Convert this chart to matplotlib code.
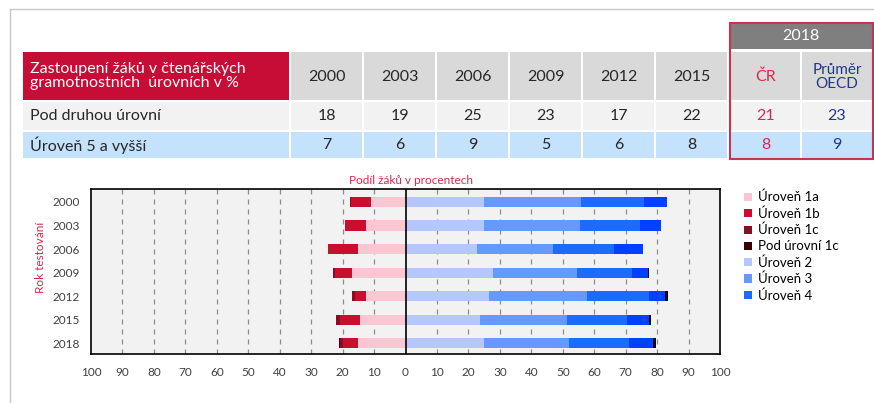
import matplotlib.pyplot as plt
import numpy as np
from matplotlib.patches import Rectangle

plt.rcParams['font.family'] = ['Lato', 'DejaVu Sans']

# table data
years = ['2000', '2003', '2006', '2009', '2012', '2015']
below2 = [18, 19, 25, 23, 17, 22]
level5plus = [7, 6, 9, 5, 6, 8]
cr_2018 = [21, 8]
oecd_2018 = [23, 9]
row_labels = ['Pod druhou úrovní', 'Úroveň 5 a vyšší']

# chart data (share of pupils in %)
test_years = ['2000', '2003', '2006', '2009', '2012', '2015', '2018']
lvl1a = [11.1, 12.6, 15.0, 16.9, 12.6, 14.5, 15.0]
lvl1b = [6.3, 6.6, 9.5, 5.5, 3.4, 6.2, 4.9]
lvl1c = [0.1, 0.1, 0.1, 0.7, 0.9, 1.4, 1.0]
below1c = [0.0, 0.0, 0.0, 0.0, 0.0, 0.0, 0.4]
lvl2 = [24.9, 24.9, 22.6, 27.8, 26.4, 23.6, 24.9]
lvl3 = [31.0, 30.5, 24.3, 26.7, 31.3, 27.6, 27.2]
lvl4 = [20.0, 19.1, 19.4, 17.6, 19.6, 19.1, 19.1]
lvl5 = [7.1, 6.6, 9.1, 4.9, 5.3, 7.1, 7.6]
lvl6 = [0.0, 0.0, 0.0, 0.4, 0.8, 0.8, 0.8]

W, H = 874, 403
fig = plt.figure(figsize=(W / 100, H / 100), dpi=100)
bg = fig.add_axes([0, 0, 1, 1])
bg.set_xlim(0, W); bg.set_ylim(H, 0); bg.axis('off')

# outer frame
bg.plot([10, 10], [9, H], color='#C8C8C8', lw=1)
bg.plot([10, W], [9, 9], color='#C8C8C8', lw=1)

RED = '#C70C35'
PINKRED = '#D6294B'
NAVY = '#1F3A8A'
DARK = '#262626'

def cell(x0, x1, y0, y1, color):
    bg.add_patch(Rectangle((x0, y0), x1 - x0, y1 - y0, facecolor=color, edgecolor='none'))

# table layout
hdr = (52, 100); r1 = (102, 130); r2 = (132, 158)
cell(23, 289, *hdr, RED)
cell(23, 289, *r1, '#F2F2F2')
cell(23, 289, *r2, '#C4E2FB')
bg.text(30, 76, 'Zastoupení žáků v čtenářských\ngramotnostních  úrovních v %', color='white',
        fontsize=11.5, va='center', ha='left', linespacing=1.05)
bg.text(30, 116, row_labels[0], color=DARK, fontsize=11.5, va='center')
bg.text(30, 145, row_labels[1], color=DARK, fontsize=11.5, va='center')

col_w = 73
for i, yr in enumerate(years):
    x0 = 291 + i * col_w
    x1 = x0 + col_w - 2
    cx = (x0 + x1) / 2
    cell(x0, x1, *hdr, '#D9D9D9')
    cell(x0, x1, *r1, '#F2F2F2')
    cell(x0, x1, *r2, '#C4E2FB')
    bg.text(cx, 77, yr, color=DARK, fontsize=11.5, ha='center', va='center')
    bg.text(cx, 116, str(below2[i]), color=DARK, fontsize=11.5, ha='center', va='center')
    bg.text(cx, 145, str(level5plus[i]), color=DARK, fontsize=11.5, ha='center', va='center')

# 2018 block
cell(730, 872, 23, 49, '#7F7F7F')
bg.text(801, 36, '2018', color='white', fontsize=11.5, ha='center', va='center')
for (x0, x1, head, vals, col) in [(731, 800, 'ČR', cr_2018, PINKRED),
                                  (802, 872, 'Průměr\nOECD', oecd_2018, NAVY)]:
    cx = (x0 + x1) / 2
    cell(x0, x1, *hdr, '#D9D9D9')
    cell(x0, x1, *r1, '#F2F2F2')
    cell(x0, x1, *r2, '#C4E2FB')
    bg.text(cx, 77, head, color=col, fontsize=11.5 if head == 'ČR' else 11,
            ha='center', va='center', linespacing=0.95)
    bg.text(cx, 116, str(vals[0]), color=col, fontsize=11.5, ha='center', va='center')
    bg.text(cx, 145, str(vals[1]), color=col, fontsize=11.5, ha='center', va='center')
bg.add_patch(Rectangle((729.5, 23), 143, 136, facecolor='none', edgecolor='#C8344F', lw=1.5))

# diverging bar chart
ax = fig.add_axes([91 / W, (H - 354) / H, (720 - 91) / W, (354 - 189) / H])
ax.set_facecolor('#F2F2F2')
y = np.arange(len(test_years))
bh = 0.43

left_series = [(lvl1a, '#F9C6D1', 'Úroveň 1a'), (lvl1b, '#C8102E', 'Úroveň 1b'),
               (lvl1c, '#8E0B24', 'Úroveň 1c'), (below1c, '#3A0008', 'Pod úrovní 1c')]
right_series = [(lvl2, '#B4C7FF', 'Úroveň 2'), (lvl3, '#6699FF', 'Úroveň 3'),
                (lvl4, '#1A6CFF', 'Úroveň 4'), (lvl5, '#0040FF', None), (lvl6, '#000000', None)]

handles = []
cum = np.zeros(len(y))
for vals, c, lab in left_series:
    v = np.array(vals)
    b = ax.barh(y, -v, left=-cum, height=bh, color=c, edgecolor='none', zorder=3)
    handles.append((b, lab))
    cum += v
cum = np.zeros(len(y))
for vals, c, lab in right_series:
    v = np.array(vals)
    b = ax.barh(y, v, left=cum, height=bh, color=c, edgecolor='none', zorder=3)
    if lab:
        handles.append((b, lab))
    cum += v

ax.set_xlim(-100, 100)
ax.set_ylim(6.45, -0.55)
for gx in range(-90, 100, 10):
    if gx == 0:
        continue
    ax.axvline(gx, color='#8C8C8C', lw=0.9, ls=(0, (4, 4)), zorder=1)
ax.axvline(0, color='black', lw=1.2, zorder=4)

ticks = np.arange(-100, 101, 10)
ax.set_xticks(ticks)
ax.set_xticklabels([str(abs(t)) for t in ticks], fontsize=8.5, color='#404040')
ax.set_yticks(y)
ax.set_yticklabels(test_years, fontsize=8.5, color='#404040')
ax.tick_params(axis='x', length=0, pad=9)
ax.tick_params(axis='y', length=0, pad=8)
for s in ax.spines.values():
    s.set_color('black'); s.set_linewidth(1.2)

fig.text(411 / W, 1 - 180 / H, 'Podíl žáků v procentech', color=PINKRED, fontsize=8.5,
         ha='center', va='center')
fig.text(40 / W, 1 - 257 / H, 'Rok testování', color=PINKRED, fontsize=8.5,
         ha='center', va='center', rotation=90)

fig.legend([h for h, _ in handles], [l for _, l in handles], loc='upper left',
           bbox_to_anchor=(744 / W, 1 - 191 / H), frameon=False, fontsize=9.5,
           handlelength=0.6, handleheight=0.6, handletextpad=0.45, labelspacing=0.3,
           borderaxespad=0, borderpad=0)

fig.savefig('out.png', dpi=100)
